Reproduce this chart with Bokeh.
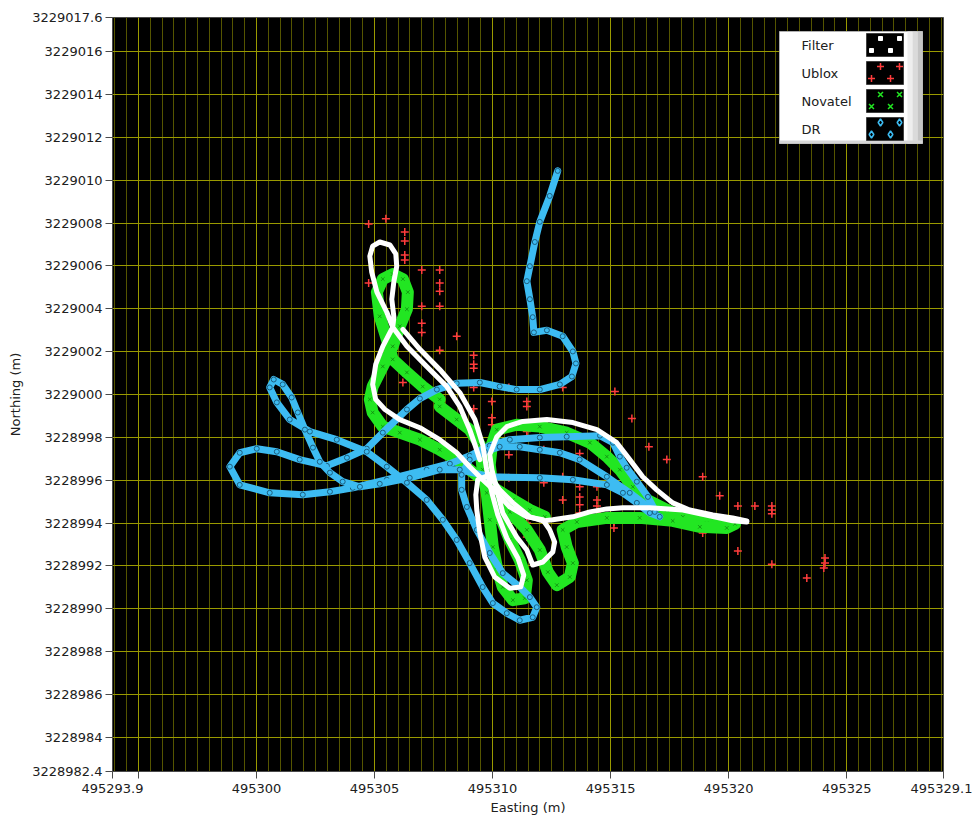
from bokeh.plotting import figure
from bokeh.models import Range1d, FixedTicker, BoxAnnotation, Label
from bokeh.embed import file_html
from bokeh.resources import INLINE

# Axis extents and tick labels (UTM easting / northing, metres)
X_MIN, X_MAX = 495293.9, 495329.1
Y_MIN, Y_MAX = 3228982.4, 3229017.6

x_ticks = [495293.9, 495295, 495300, 495305, 495310, 495315, 495320, 495325, 495329.1]
x_tick_labels = ["495293.9", "", "495300", "495305", "495310", "495315", "495320", "495325", "495329.1"]
y_ticks = [3228982.4, 3228984, 3228986, 3228988, 3228990, 3228992, 3228994, 3228996, 3228998,
           3229000, 3229002, 3229004, 3229006, 3229008, 3229010, 3229012, 3229014, 3229016, 3229017.6]
y_tick_labels = ["3228982.4", "3228984", "3228986", "3228988", "3228990", "3228992", "3228994",
                 "3228996", "3228998", "3229000", "3229002", "3229004", "3229006", "3229008",
                 "3229010", "3229012", "3229014", "3229016", "3229017.6"]

# Filter solution (two traced passes)
filter_a_e = [495309.46, 495309.25, 495309.03, 495308.61, 495308.06, 495307.21, 495306.37, 495305.77,
              495305.52, 495305.10, 495304.88, 495304.80, 495304.92, 495305.22, 495305.65, 495305.90,
              495305.94, 495305.82, 495305.73, 495305.82, 495305.77, 495305.35, 495305.05, 495304.92,
              495305.05, 495305.44, 495306.07, 495306.92, 495307.76, 495308.48, 495309.03, 495309.58,
              495310.18, 495310.73, 495311.45, 495312.13, 495312.42, 495312.63, 495312.55, 495312.13,
              495311.70, 495311.45, 495311.02, 495310.43, 495310.18, 495309.97, 495309.88, 495310.18,
              495310.60, 495311.28, 495312.30, 495313.40, 495314.42, 495315.26, 495315.81, 495316.36,
              495316.95, 495317.63, 495318.35, 495319.33, 495320.17, 495320.77]
filter_a_n = [3228996.96, 3228997.66, 3228998.36, 3228999.44, 3229000.37, 3229001.31, 3229002.25, 3229003.14,
              3229003.84, 3229004.78, 3229005.71, 3229006.46, 3229006.93, 3229007.12, 3229006.98, 3229006.56,
              3229005.99, 3229005.29, 3229004.45, 3229003.61, 3229003.14, 3229002.25, 3229001.41, 3229000.47,
              3228999.77, 3228999.30, 3228998.83, 3228998.45, 3228997.89, 3228997.28, 3228996.63, 3228996.02,
              3228995.41, 3228994.75, 3228994.29, 3228994.15, 3228993.68, 3228993.11, 3228992.65, 3228992.18,
              3228992.04, 3228992.74, 3228993.35, 3228994.47, 3228995.55, 3228996.49, 3228997.19, 3228998.03,
              3228998.50, 3228998.74, 3228998.83, 3228998.69, 3228998.36, 3228997.75, 3228996.96, 3228996.16,
              3228995.55, 3228994.94, 3228994.61, 3228994.38, 3228994.24, 3228994.10]
filter_b_e = [495320.77, 495320.17, 495318.99, 495318.06, 495316.66, 495315.52, 495314.84, 495314.12,
              495313.40, 495312.55, 495312.13, 495311.58, 495310.86, 495310.30, 495309.88, 495309.37,
              495309.29, 495309.33, 495309.46, 495309.67, 495310.09, 495310.73, 495311.19, 495311.32,
              495311.07, 495310.60, 495310.22, 495309.97, 495309.75, 495309.58, 495309.25, 495308.61,
              495307.76, 495306.92, 495306.20]
filter_b_n = [3228994.05, 3228994.10, 3228994.38, 3228994.61, 3228994.71, 3228994.71, 3228994.66, 3228994.52,
              3228994.29, 3228994.15, 3228994.10, 3228994.29, 3228994.94, 3228995.55, 3228996.25, 3228996.02,
              3228995.32, 3228994.61, 3228993.54, 3228992.41, 3228991.48, 3228990.96, 3228991.01, 3228991.57,
              3228992.37, 3228993.30, 3228994.38, 3228995.41, 3228996.49, 3228997.66, 3228998.83, 3229000.09,
              3229001.17, 3229002.11, 3229003.04]

# Ublox fixes
ublox_e = [495304.75, 495305.48, 495306.28, 495306.28, 495306.28, 495306.28, 495307.00, 495307.76,
           495307.76, 495307.76, 495307.00, 495307.76, 495307.00, 495307.00, 495308.48, 495307.76,
           495309.20, 495309.20, 495309.20, 495304.75, 495306.28, 495306.20, 495306.20, 495307.00,
           495309.20, 495310.69, 495312.97, 495309.20, 495309.97, 495311.45, 495311.45, 495309.97,
           495309.97, 495312.17, 495311.45, 495311.45, 495312.17, 495310.69, 495313.69, 495310.69,
           495312.97, 495312.17, 495313.69, 495314.42, 495312.97, 495313.69, 495314.42, 495310.69,
           495313.69, 495314.42, 495313.69, 495314.42, 495311.45, 495311.45, 495311.45, 495315.14,
           495315.14, 495315.18, 495315.90, 495316.62, 495317.38, 495318.90, 495319.62, 495320.39,
           495321.11, 495321.83, 495321.83, 495321.83, 495320.39, 495321.83, 495323.31, 495324.08,
           495324.08, 495324.03, 495316.62, 495317.38, 495318.90, 495314.42]
ublox_n = [3229007.96, 3229008.20, 3229007.59, 3229007.17, 3229006.51, 3229006.28, 3229005.81, 3229005.81,
           3229005.20, 3229004.82, 3229004.12, 3229004.12, 3229003.33, 3229002.90, 3229002.72, 3229002.06,
           3229001.83, 3229001.41, 3229001.22, 3229005.20, 3229005.20, 3229001.03, 3229000.56, 3229000.33,
           3229000.33, 3229000.33, 3229000.33, 3228999.34, 3228999.67, 3228999.67, 3228999.44, 3228998.92,
           3228998.59, 3228998.69, 3228998.27, 3228998.03, 3228997.42, 3228997.19, 3228997.24, 3228996.11,
           3228996.16, 3228995.88, 3228995.69, 3228995.69, 3228995.08, 3228995.22, 3228995.08, 3228994.80,
           3228994.85, 3228994.80, 3228994.47, 3228994.24, 3228994.00, 3228993.58, 3228993.35, 3228994.05,
           3228993.77, 3229000.14, 3228998.88, 3228997.56, 3228996.96, 3228996.16, 3228995.27, 3228994.80,
           3228994.80, 3228994.80, 3228994.61, 3228994.43, 3228992.69, 3228992.08, 3228991.43, 3228992.37,
           3228992.13, 3228991.90, 3228995.08, 3228994.47, 3228993.54, 3228994.52]

# Novatel track (three traced passes)
novatel_a_e = [495307.76, 495307.04, 495306.37, 495305.77, 495305.52, 495305.22, 495305.10, 495305.35,
               495305.77, 495306.20, 495306.41, 495306.37, 495306.07, 495305.77, 495305.35, 495304.92,
               495304.80, 495304.92, 495305.35, 495306.07, 495306.92, 495307.76, 495308.48, 495309.03,
               495309.58, 495310.18, 495310.86, 495311.58, 495312.21]
novatel_a_n = [3228999.77, 3229000.37, 3229001.03, 3229001.64, 3229002.58, 3229003.65, 3229004.78, 3229005.39,
               3229005.62, 3229005.39, 3229004.78, 3229003.98, 3229003.19, 3229002.25, 3229001.31, 3229000.37,
               3228999.77, 3228999.16, 3228998.50, 3228998.22, 3228997.89, 3228997.42, 3228996.96, 3228996.49,
               3228996.02, 3228995.55, 3228995.08, 3228994.61, 3228994.29]
novatel_b_e = [495307.76, 495308.48, 495309.03, 495309.46, 495309.58, 495309.75, 495309.88, 495310.01,
               495310.18, 495310.43, 495310.86, 495311.36, 495311.45, 495311.15, 495310.73, 495310.30,
               495310.01, 495309.88, 495309.97, 495310.18, 495311.02, 495312.00, 495313.14, 495314.12,
               495314.84, 495315.39, 495315.94, 495316.54, 495317.38, 495318.06, 495319.07, 495319.92,
               495320.27]
novatel_b_n = [3228999.44, 3228998.83, 3228998.36, 3228997.66, 3228996.49, 3228995.41, 3228994.15, 3228992.88,
               3228991.94, 3228991.01, 3228990.40, 3228990.49, 3228991.33, 3228992.27, 3228993.21, 3228994.38,
               3228995.55, 3228996.72, 3228997.66, 3228998.36, 3228998.59, 3228998.50, 3228998.22, 3228997.75,
               3228997.10, 3228996.49, 3228995.69, 3228995.08, 3228994.61, 3228994.29, 3228994.00, 3228993.91,
               3228994.00]
novatel_c_e = [495320.27, 495319.92, 495318.78, 495317.63, 495316.23, 495314.84, 495313.57, 495312.97,
               495313.14, 495313.40, 495313.27, 495312.72, 495312.34, 495312.00, 495311.45, 495310.73,
               495310.09]
novatel_c_n = [3228993.96, 3228993.77, 3228993.82, 3228994.10, 3228994.24, 3228994.24, 3228994.05, 3228993.68,
               3228992.88, 3228992.13, 3228991.48, 3228991.10, 3228991.71, 3228992.74, 3228993.68, 3228994.52,
               3228995.22]

# Dead-reckoning track (two traced passes)
dr_a_e = [495312.76, 495312.42, 495312.00, 495311.79, 495311.58, 495311.45, 495311.58, 495311.70,
          495311.75, 495312.30, 495312.97, 495313.40, 495313.53, 495313.36, 495312.85, 495312.00,
          495311.02, 495310.30, 495309.46, 495308.48, 495307.64, 495306.92, 495306.37, 495305.35,
          495304.67, 495303.83, 495302.98, 495301.83, 495300.86, 495300.01, 495299.29, 495298.87,
          495299.29, 495300.56, 495301.96, 495303.11, 495304.08, 495305.52, 495307.21, 495308.19,
          495309.03, 495309.88, 495310.73, 495312.00, 495313.14, 495314.55, 495315.10, 495315.39,
          495315.68, 495316.11, 495316.58, 495316.87]
dr_a_n = [3229010.44, 3229009.27, 3229008.06, 3229007.12, 3229005.99, 3229005.29, 3229004.45, 3229003.61,
          3229002.90, 3229003.00, 3229002.72, 3229002.01, 3229001.45, 3229000.84, 3229000.47, 3229000.23,
          3229000.23, 3229000.37, 3229000.56, 3229000.52, 3229000.23, 3228999.81, 3228999.30, 3228998.22,
          3228997.47, 3228997.05, 3228996.67, 3228996.96, 3228997.33, 3228997.47, 3228997.28, 3228996.63,
          3228995.78, 3228995.41, 3228995.32, 3228995.46, 3228995.64, 3228996.02, 3228996.49, 3228996.77,
          3228997.14, 3228997.61, 3228997.89, 3228997.99, 3228998.03, 3228998.08, 3228997.75, 3228997.10,
          3228996.58, 3228995.93, 3228995.22, 3228994.61]
dr_b_e = [495316.87, 495315.81, 495314.84, 495313.69, 495312.85, 495312.00, 495311.15, 495310.30,
          495309.67, 495309.03, 495308.69, 495308.69, 495308.91, 495309.33, 495309.88, 495310.43,
          495311.15, 495311.58, 495311.87, 495311.70, 495311.15, 495310.60, 495310.01, 495309.58,
          495309.03, 495308.48, 495307.89, 495307.21, 495306.37, 495305.52, 495304.67, 495303.40,
          495302.26, 495301.41, 495300.86, 495300.56, 495300.73, 495301.11, 495301.49, 495301.75,
          495302.05, 495302.39, 495302.68, 495303.11, 495303.65, 495304.38, 495305.22, 495306.49,
          495307.76, 495308.61, 495309.88, 495312.00, 495313.40, 495314.84, 495315.52, 495316.11,
          495316.66, 495317.08]
dr_b_n = [3228994.52, 3228995.41, 3228996.16, 3228996.96, 3228997.28, 3228997.42, 3228997.56, 3228997.56,
          3228997.33, 3228996.96, 3228996.25, 3228995.55, 3228994.75, 3228993.68, 3228992.60, 3228991.66,
          3228991.01, 3228990.54, 3228990.07, 3228989.60, 3228989.46, 3228989.79, 3228990.26, 3228991.01,
          3228992.13, 3228993.21, 3228994.15, 3228995.08, 3228995.88, 3228996.63, 3228997.33, 3228997.89,
          3228998.27, 3228998.83, 3228999.63, 3229000.33, 3229000.70, 3229000.47, 3228999.86, 3228999.16,
          3228998.36, 3228997.52, 3228996.86, 3228996.35, 3228995.93, 3228995.69, 3228995.83, 3228996.11,
          3228996.49, 3228996.49, 3228996.16, 3228996.11, 3228996.02, 3228995.78, 3228995.41, 3228994.94,
          3228994.47, 3228994.29]

legend_names = ["Filter", "Ublox", "Novatel", "DR"]

# Colours
FILTER_C = "#ffffff"
UBLOX_C = "#ff3c3c"
NOVATEL_C = "#22e622"
DR_C = "#3dbcf2"
GRID_MAJOR = "#9a9a00"
GRID_MINOR = "#555500"
FONT = "DejaVu Sans"

FRAME_LEFT, FRAME_TOP, FRAME_W, FRAME_H = 112, 17, 831, 754

p = figure(frame_width=FRAME_W, frame_height=FRAME_H,
           x_range=Range1d(X_MIN, X_MAX), y_range=Range1d(Y_MIN, Y_MAX),
           output_backend="svg", toolbar_location=None,
           min_border_left=FRAME_LEFT, min_border_right=29,
           min_border_top=FRAME_TOP, min_border_bottom=45,
           background_fill_color="black", border_fill_color="white",
           outline_line_color="#4a4a4a")

# grid: vertical lines every 5 m (bright) with 0.5 m minors, horizontal every 2 m
minor_x = [495294.0 + 0.5 * i for i in range(71) if i % 10 != 2]
p.xgrid.ticker = FixedTicker(ticks=[495295, 495300, 495305, 495310, 495315, 495320, 495325],
                             minor_ticks=minor_x)
p.xgrid.grid_line_color = GRID_MAJOR
p.xgrid.minor_grid_line_color = GRID_MINOR
p.ygrid.ticker = FixedTicker(ticks=y_ticks[1:-1])
p.ygrid.grid_line_color = GRID_MAJOR

p.xaxis.ticker = FixedTicker(ticks=x_ticks)
p.yaxis.ticker = FixedTicker(ticks=y_ticks)
p.xaxis.major_label_overrides = dict(zip(x_ticks, x_tick_labels))
p.yaxis.major_label_overrides = dict(zip(y_ticks, y_tick_labels))
p.xaxis.axis_label = "Easting (m)"
p.yaxis.axis_label = "Northing (m)"

for ax in (p.xaxis[0], p.yaxis[0]):
    ax.axis_line_color = "#4a4a4a"
    ax.major_tick_line_color = "#4a4a4a"
    ax.major_tick_out = 7
    ax.major_tick_in = 0
    ax.minor_tick_line_color = None
    ax.major_label_text_font = FONT
    ax.major_label_text_font_size = "13px"
    ax.major_label_text_color = "#202020"
    ax.axis_label_text_font = FONT
    ax.axis_label_text_font_size = "13px"
    ax.axis_label_text_font_style = "normal"
    ax.axis_label_text_color = "#202020"
p.xaxis.major_label_standoff = 5
p.xaxis.axis_label_standoff = 4
p.yaxis.major_label_standoff = 3
p.yaxis.axis_label_standoff = 6

# Ublox fixes
p.scatter(ublox_e, ublox_n, marker="cross", size=8, line_color=UBLOX_C, line_width=1.5)

# Novatel track: broad noisy band
for e, n in ((novatel_a_e, novatel_a_n), (novatel_b_e, novatel_b_n), (novatel_c_e, novatel_c_n)):
    p.line(e, n, line_color=NOVATEL_C, line_width=12, line_join="round", line_cap="round")
    p.scatter(e, n, marker="x", size=5, line_color="#0d7a0d", line_alpha=0.7)

# DR track
for e, n in ((dr_a_e, dr_a_n), (dr_b_e, dr_b_n)):
    p.line(e, n, line_color=DR_C, line_width=7, line_join="round", line_cap="round")
    p.scatter(e, n, marker="circle", size=5, fill_color=None, line_color="#1d5f80", line_width=1)

# Filter solution on top
for e, n in ((filter_a_e, filter_a_n), (filter_b_e, filter_b_n)):
    p.line(e, n, line_color=FILTER_C, line_width=5, line_join="round", line_cap="round")


# ---- legend panel (positioned in canvas pixels, converted to data units) ----
def canvas_to_data(cx, cy):
    x = X_MIN + (cx - FRAME_LEFT) / FRAME_W * (X_MAX - X_MIN)
    y = Y_MAX - (cy - FRAME_TOP) / FRAME_H * (Y_MAX - Y_MIN)
    return x, y


def add_box(l, t, r, b, color, line_color=None):
    x0, y0 = canvas_to_data(l, t)
    x1, y1 = canvas_to_data(r, b)
    p.add_layout(BoxAnnotation(left=x0, right=x1, top=y0, bottom=y1,
                               fill_color=color, fill_alpha=1.0,
                               line_color=line_color, line_alpha=1.0, line_width=1))


add_box(779, 31, 922, 143, "#ffffff", "#b0b0b0")
add_box(907, 31, 912, 143, "#eeeeee")
add_box(912, 31, 917, 143, "#dadada")
add_box(917, 31, 922, 143, "#c4c4c4")
add_box(779, 140, 922, 143, "#d6d6d6")

swatch_styles = [
    dict(marker="square", size=4, fill_color=FILTER_C, line_color=FILTER_C),
    dict(marker="cross", size=7, line_color=UBLOX_C, line_width=1.5),
    dict(marker="x", size=7, line_color=NOVATEL_C, line_width=1.5),
    dict(marker="diamond", size=7, fill_color=None, line_color=DR_C, line_width=1.5),
]
for i, (name, style) in enumerate(zip(legend_names, swatch_styles)):
    top = 33 + 28 * i
    add_box(866, top, 903, top + 23, "#000000", "#404040")
    lx, ly = canvas_to_data(801, top + 12)
    p.add_layout(Label(x=lx, y=ly, text=name, text_font=FONT, text_font_size="13px",
                       text_color="#202020", text_baseline="middle", text_align="left"))
    pts = [canvas_to_data(866 + dx, top + dy) for dx, dy in ((14, 5), (33, 5), (5, 17), (24, 17))]
    p.scatter([q[0] for q in pts], [q[1] for q in pts], level="overlay", **style)

open("out.html", "w").write(file_html(p, INLINE))
